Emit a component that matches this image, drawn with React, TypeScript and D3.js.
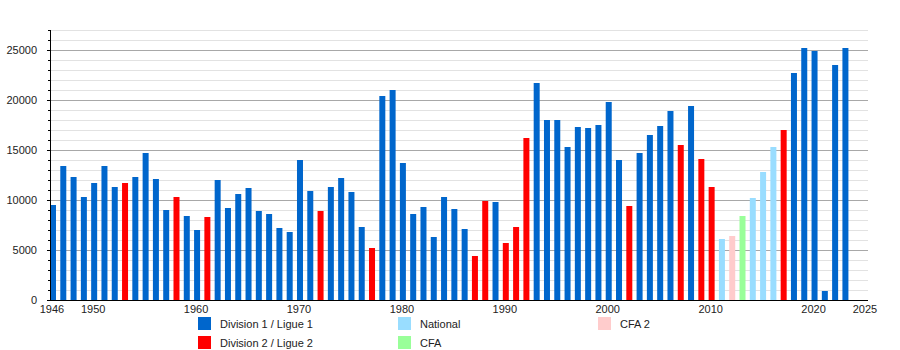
import React, { useEffect, useRef } from 'react';
import * as d3 from 'd3';

// season start years, 1946 .. 2023
const years = d3.range(1946, 2024);

// average attendance per season
const attendance = [
  9500, 13400, 12300, 10300, 11700, 13400, 11300, 11700, 12300, 14700,
  12100, 9000, 10300, 8400, 7000, 8300, 12000, 9200, 10600, 11200,
  8900, 8600, 7200, 6800, 14000, 10900, 8900, 11300, 12200, 10800,
  7300, 5200, 20400, 21000, 13700, 8600, 9300, 6300, 10300, 9100,
  7100, 4400, 9900, 9800, 5700, 7300, 16200, 21700, 18000, 18000,
  15300, 17300, 17200, 17500, 19800, 14000, 9400, 14700, 16500, 17400,
  18900, 15500, 19400, 14100, 11300, 6100, 6400, 8400, 10200, 12800,
  15300, 17000, 22700, 25200, 24900, 900, 23500, 25200,
];

// division played in each season (index into leagues)
const division = [
  0, 0, 0, 0, 0, 0, 0, 1, 0, 0,
  0, 0, 1, 0, 0, 1, 0, 0, 0, 0,
  0, 0, 0, 0, 0, 0, 1, 0, 0, 0,
  0, 1, 0, 0, 0, 0, 0, 0, 0, 0,
  0, 1, 1, 0, 1, 1, 1, 0, 0, 0,
  0, 0, 0, 0, 0, 0, 1, 0, 0, 0,
  0, 1, 0, 1, 1, 2, 4, 3, 2, 2,
  2, 1, 0, 0, 0, 0, 0, 0,
];

const leagues = ['Division 1 / Ligue 1', 'Division 2 / Ligue 2', 'National', 'CFA', 'CFA 2'];
const leagueColors = ['#0066cc', '#ff0000', '#99ddff', '#99ff99', '#ffcccc'];

const xTicks = [1946, 1950, 1960, 1970, 1980, 1990, 2000, 2010, 2020, 2025];

const App = () => {
  const chartRef = useRef<SVGSVGElement>(null);

  useEffect(() => {
    const width = 900;
    const height = 350;
    const left = 50;
    const right = 868;
    const top = 30;
    const bottom = 300;

    const svg = d3.select(chartRef.current)
      .attr('width', width)
      .attr('height', height)
      .style('font-family', '"Liberation Sans", Arial, sans-serif');

    const x = d3.scaleLinear().domain([1946, 2025]).range([52, 865]);
    const y = d3.scaleLinear().domain([0, 27000]).range([bottom, top]);

    // gridlines
    const minor = d3.range(1000, 27001, 1000).filter(v => v % 5000 !== 0);
    const major = d3.range(5000, 27001, 5000);
    svg.append('g')
      .selectAll('line')
      .data(minor)
      .enter()
      .append('line')
      .attr('x1', left)
      .attr('x2', right)
      .attr('y1', d => y(d) + 0.5)
      .attr('y2', d => y(d) + 0.5)
      .attr('stroke', '#e2e2e2');
    svg.append('g')
      .selectAll('line')
      .data(major)
      .enter()
      .append('line')
      .attr('x1', left)
      .attr('x2', right)
      .attr('y1', d => y(d) + 0.5)
      .attr('y2', d => y(d) + 0.5)
      .attr('stroke', '#a8a8a8');

    // bars
    svg.append('g')
      .selectAll('rect')
      .data(years)
      .enter()
      .append('rect')
      .attr('x', d => x(d) - 2)
      .attr('y', (d, i) => y(attendance[i]))
      .attr('width', 6)
      .attr('height', (d, i) => bottom - y(attendance[i]))
      .attr('fill', (d, i) => leagueColors[division[i]]);

    // y axis line + ticks
    svg.append('line')
      .attr('x1', left + 0.5).attr('x2', left + 0.5)
      .attr('y1', top).attr('y2', bottom)
      .attr('stroke', '#000');
    svg.append('g')
      .selectAll('line')
      .data(d3.range(0, 27001, 1000))
      .enter()
      .append('line')
      .attr('x1', d => (d % 5000 === 0 ? left - 3 : left - 2))
      .attr('x2', left)
      .attr('y1', d => y(d) + 0.5)
      .attr('y2', d => y(d) + 0.5)
      .attr('stroke', '#000');
    svg.append('g')
      .selectAll('text')
      .data(y.ticks(6))
      .enter()
      .append('text')
      .attr('x', 37)
      .attr('y', d => y(d) + 4)
      .attr('text-anchor', 'end')
      .attr('font-size', 11)
      .attr('fill', '#222')
      .text(d => d);

    // x axis
    svg.append('line')
      .attr('x1', left).attr('x2', right)
      .attr('y1', bottom + 0.5).attr('y2', bottom + 0.5)
      .attr('stroke', '#000');
    svg.append('g')
      .selectAll('text')
      .data(xTicks)
      .enter()
      .append('text')
      .attr('x', d => x(d))
      .attr('y', bottom + 13)
      .attr('text-anchor', 'middle')
      .attr('font-size', 11)
      .attr('fill', '#222')
      .text(d => d);

    // legend
    const legendPos = [[198, 317], [198, 336], [398, 317], [398, 336], [598, 317]];
    const legend = svg.append('g')
      .selectAll('g')
      .data(leagues)
      .enter()
      .append('g')
      .attr('transform', (d, i) => `translate(${legendPos[i][0]},${legendPos[i][1]})`);
    legend.append('rect')
      .attr('width', 13)
      .attr('height', 13)
      .attr('fill', (d, i) => leagueColors[i]);
    legend.append('text')
      .attr('x', 22)
      .attr('y', 11)
      .attr('font-size', 11)
      .attr('fill', '#222')
      .text(d => d);

    return () => {
      d3.select(chartRef.current).selectAll('*').remove();
    };
  }, []);

  return <svg ref={chartRef} style={{ position: 'absolute', left: 0, top: 0 }}></svg>;
};

export default App;
